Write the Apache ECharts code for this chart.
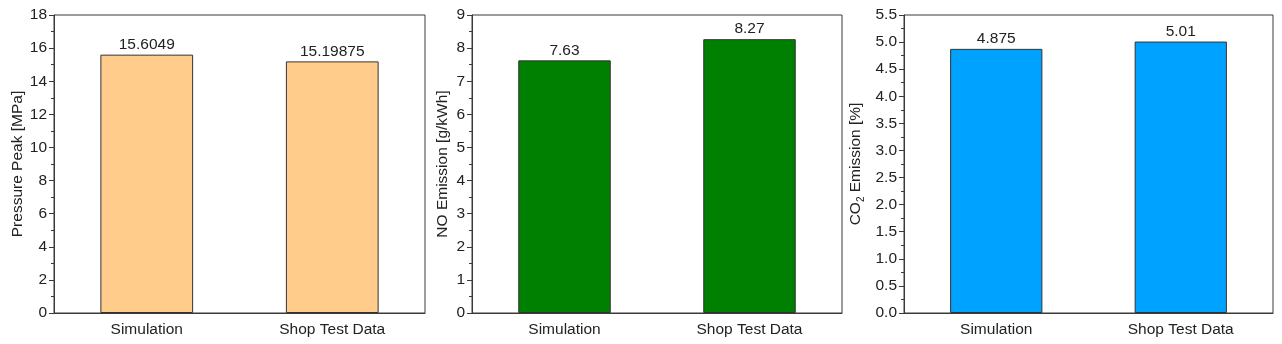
<!DOCTYPE html>
<html>
<head>
<meta charset="utf-8">
<script src="https://cdn.jsdelivr.net/npm/echarts@6/dist/echarts.min.js"></script>
<style>
  html, body { margin: 0; padding: 0; background: #fff; }
  #main { width: 1282px; height: 344px; }
</style>
</head>
<body>
<div id="main"></div>
<script>
  // categories shared by all three panels
  var categories = ['Simulation', 'Shop Test Data'];

  // values
  var pressureVals = [15.6049, 15.19875];
  var noVals = [7.63, 8.27];
  var co2Vals = [4.875, 5.01];

  // y axis ranges
  var pressureAxis = { min: 0, max: 18, interval: 2 };
  var noAxis = { min: 0, max: 9, interval: 1 };
  var co2Axis = { min: 0, max: 5.5, interval: 0.5 };

  var font = 'Liberation Sans, Arial, sans-serif';
  var fs = 15.5;
  var ink = '#222';
  var lineCol = '#3a3a3a';

  var myChart = echarts.init(document.getElementById('main'));

  var grids = [
    { left: 54, width: 371, top: 15, bottom: 31 },
    { left: 472, width: 370, top: 15, bottom: 31 },
    { left: 904, width: 369, top: 15, bottom: 31 }
  ];
  grids.forEach(function (g) {
    g.show = true;
    g.borderColor = lineCol;
    g.borderWidth = 1;
    g.backgroundColor = 'transparent';
  });

  var xAxes = [], yAxes = [], series = [];

  function addPanel(i, vals, ax, name, nameGap, color, decimals, rich) {
    // main category axis: labels + tick at category centre
    xAxes.push({
      type: 'category', gridIndex: i, data: categories, position: 'bottom',
      axisLine: { lineStyle: { color: lineCol, width: 1 } },
      axisTick: { alignWithLabel: true, length: 5, lineStyle: { color: lineCol } },
      axisLabel: { color: ink, fontSize: fs, fontFamily: font, margin: 9 }
    });
    // second axis only for the short boundary ticks
    xAxes.push({
      type: 'category', gridIndex: i, data: categories, position: 'bottom', offset: 0,
      axisLine: { show: false },
      axisTick: { alignWithLabel: false, length: 3, lineStyle: { color: lineCol } },
      axisLabel: { show: false }
    });
    yAxes.push({
      type: 'value', gridIndex: i, min: ax.min, max: ax.max, interval: ax.interval,
      name: name, nameLocation: 'middle', nameGap: nameGap, nameRotate: 90,
      nameTextStyle: { color: ink, fontSize: fs, fontFamily: font, rich: rich },
      axisLine: { show: true, lineStyle: { color: lineCol, width: 1 } },
      axisTick: { show: true, length: 5, lineStyle: { color: lineCol } },
      minorTick: { show: true, splitNumber: 2, length: 3, lineStyle: { color: lineCol } },
      splitLine: { show: false },
      axisLabel: {
        color: ink, fontSize: fs, fontFamily: font, margin: 7,
        formatter: function (v) { return v.toFixed(decimals); }
      }
    });
    series.push({
      type: 'bar', xAxisIndex: i * 2, yAxisIndex: i, data: vals,
      barWidth: '50%',
      itemStyle: { color: color, borderColor: '#333', borderWidth: 1 },
      label: {
        show: true, position: 'top', distance: 2, color: ink, fontSize: fs, fontFamily: font,
        formatter: function (p) { return String(p.value); }
      }
    });
  }

  addPanel(0, pressureVals, pressureAxis, 'Pressure Peak [MPa]', 27, '#FFCC8C', 0);
  addPanel(1, noVals, noAxis, 'NO Emission [g/kWh]', 21, '#008000', 0);
  addPanel(2, co2Vals, co2Axis, '{n|CO}{s|2}{n| Emission [%]}', 38, '#00A2FF', 1, {
    n: { fontSize: fs, fontFamily: font, color: ink, lineHeight: 20 },
    s: { fontSize: 10, fontFamily: font, color: ink, lineHeight: 10, verticalAlign: 'bottom' }
  });

  myChart.setOption({
    animation: false,
    grid: grids,
    xAxis: xAxes,
    yAxis: yAxes,
    series: series
  });
</script>
</body>
</html>
